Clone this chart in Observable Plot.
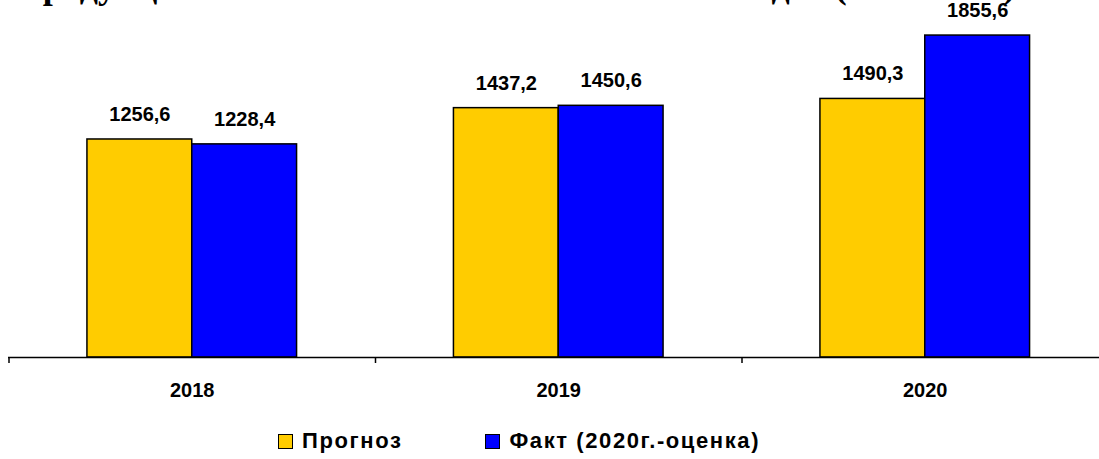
<!DOCTYPE html>
<html><head><meta charset="utf-8">
<script src="https://cdn.jsdelivr.net/npm/d3@7"></script>
<script src="https://cdn.jsdelivr.net/npm/@observablehq/plot@0.6"></script>
<style>
body{margin:0;background:#fff;position:relative;width:1099px;height:459px;overflow:hidden;font-family:"Liberation Sans",Arial,sans-serif}
#title{position:absolute;z-index:2;top:-32px;left:22px;font:bold 36px/36px "Liberation Serif","Times New Roman",serif;white-space:nowrap;color:#000}
#chart{position:absolute;z-index:1;top:0;left:0}
#legend{position:absolute;top:428px;left:278px;display:flex;align-items:center;font-weight:bold;font-size:22px;letter-spacing:1.6px;color:#000}
.item{display:flex;align-items:center}
.sw{width:13px;height:13px;border:1px solid #000;margin-right:9px}
</style>
</head><body>
<div id="title">продукции сельского хозяйства в 2018-2020 годах (тыс. тонн)</div>
<div id="chart"></div>
<div id="legend"></div>
<script>
const years = [2018, 2019, 2020];
const seriesNames = ["Прогноз", "Факт (2020г.-оценка)"];
const prognoz = [1256.6, 1437.2, 1490.3];
const fact = [1228.4, 1450.6, 1855.6];
const colors = ["#FFCC00", "#0000FF"];

const data = years.flatMap((y, i) => [
  {year: y, series: seriesNames[0], value: prognoz[i]},
  {year: y, series: seriesNames[1], value: fact[i]}
]);
const barW = 0.286;
const x1 = d => d.series === seriesNames[0] ? d.year - barW : d.year;
const x2 = d => d.series === seriesNames[0] ? d.year : d.year + barW;
const fmt = v => v.toFixed(1).replace(".", ",");

const plot = Plot.plot({
  width: 1099, height: 410,
  marginTop: 0, marginLeft: 8, marginRight: 0, marginBottom: 53,
  style: {fontFamily: "Liberation Sans, Arial, sans-serif", color: "#000", background: "transparent"},
  x: {type: "linear", domain: [2017.5, 2020.5], range: [8.5, 1108]},
  y: {domain: [0, 2000], range: [357, 10], axis: null},
  color: {domain: seriesNames, range: colors},
  marks: [
    Plot.rectY(data, {x1, x2, y1: 0, y2: "value", fill: "series", stroke: "#000", strokeWidth: 1.5}),
    Plot.text(data, {x: d => (x1(d) + x2(d)) / 2, y: "value", text: d => fmt(d.value), dy: -25, fontSize: 20, fontWeight: "bold"}),
    Plot.ruleY([0], {stroke: "#000", strokeWidth: 1.5}),
    Plot.axisX({anchor: "bottom", ticks: [2017.5, 2018.5, 2019.5], tickSize: 6, tickFormat: () => "", stroke: "#000", strokeWidth: 1.5}),
    Plot.axisX({anchor: "bottom", ticks: years, tickSize: 0, tickPadding: 25, tickFormat: d => String(d), fontSize: 20, fontWeight: "bold"})
  ]
});
document.getElementById("chart").appendChild(plot);

const legend = document.getElementById("legend");
seriesNames.forEach((name, i) => {
  const item = document.createElement("div");
  item.className = "item";
  if (i > 0) item.style.marginLeft = "83px";
  const sw = document.createElement("div");
  sw.className = "sw";
  sw.style.background = colors[i];
  const label = document.createElement("span");
  label.textContent = name;
  item.appendChild(sw);
  item.appendChild(label);
  legend.appendChild(item);
});
</script>
</body></html>
